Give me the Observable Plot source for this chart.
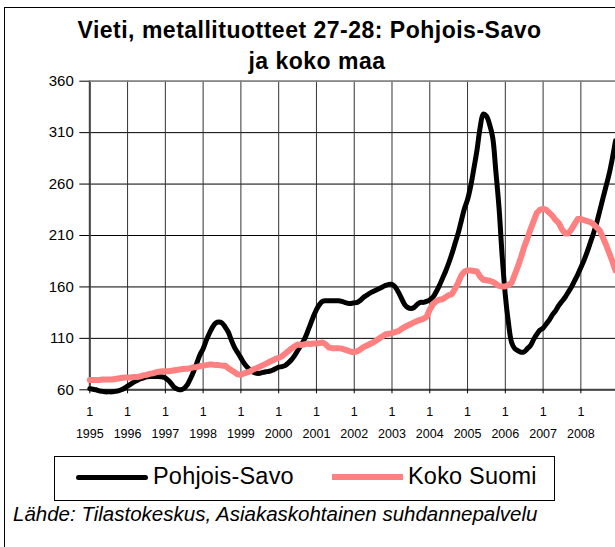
<!DOCTYPE html>
<html>
<head>
<meta charset="utf-8">
<script src="https://cdn.jsdelivr.net/npm/d3@7"></script>
<script src="https://cdn.jsdelivr.net/npm/@observablehq/plot@0.6"></script>
<style>
  html, body { margin: 0; padding: 0; background: #fff; }
  #wrap { position: relative; width: 615px; height: 547px; overflow: hidden; font-family: "Liberation Sans", Arial, sans-serif; color: #000; }
  #frame { position: absolute; left: 4px; top: 7px; width: 700px; height: 600px; border-left: 1px solid #000; border-top: 1px solid #000; }
  .title { position: absolute; font-weight: bold; font-size: 23px; line-height: 23px; letter-spacing: 0.5px; white-space: nowrap; transform: translateX(-50%); }
  #chart { position: absolute; left: 0; top: 70px; }
  #legend { position: absolute; left: 54px; top: 456px; width: 499px; height: 43px; border: 1px solid #000; }
  .sw { position: absolute; }
  .lt { position: absolute; font-size: 23.5px; line-height: 23.5px; letter-spacing: 0.2px; white-space: nowrap; }
  #caption { position: absolute; left: 13px; font-style: italic; font-size: 20.5px; line-height: 20.5px; white-space: nowrap; }
</style>
</head>
<body>
<div id="wrap">
  <div id="frame"></div>
  <div class="title" id="t1" style="left:309.5px; top:19px;">Vieti, metallituotteet 27-28: Pohjois-Savo</div>
  <div class="title" id="t2" style="left:317px; top:50px;">ja koko maa</div>
  <div id="chart"></div>
  <div id="legend">
    <div class="sw" style="left:21px; top:18px; width:72px; height:5px; background:#000; border-radius:3px;"></div>
    <div class="lt" style="left:98px; top:8px;">Pohjois-Savo</div>
    <div class="sw" style="left:277px; top:17px; width:71px; height:6px; background:#FF8080;"></div>
    <div class="lt" style="left:353px; top:8px;">Koko Suomi</div>
  </div>
  <div id="caption" style="top:504px;">Lähde: Tilastokeskus, Asiakaskohtainen suhdannepalvelu</div>
</div>
<script>
// Tick values
const years = [1995, 1996, 1997, 1998, 1999, 2000, 2001, 2002, 2003, 2004, 2005, 2006, 2007, 2008];
const yTicks = [60, 110, 160, 210, 260, 310, 360];
const seriesNames = ["Pohjois-Savo", "Koko Suomi"];

// Monthly index values, Jan 1995 .. Dec 2008
const pohjoisSavo = [
  61, 60.5, 60, 59, 58.5, 58, 58, 58, 58.5, 59, 60, 61.5,
  63.5, 65.5, 67.5, 69, 70.5, 71.5, 72.5, 73, 73, 73, 73, 72.5,
  71.5, 69, 65.5, 62, 60.5, 60, 61.5, 65, 71, 78, 86, 94,
  100, 108, 115, 121, 125, 126, 125, 121, 116, 108, 101, 96,
  91, 86, 82, 79, 77, 76, 76, 77, 77.5, 78, 79, 80.5,
  82, 82.5, 83.5, 86, 89, 93, 98, 103, 108, 115, 123, 131,
  138, 143, 146, 146.5, 146.5, 146.5, 146.5, 146.5, 146, 145, 144, 144,
  144.5, 145, 147, 150, 152, 154, 155.5, 157, 158.5, 160, 161.5, 162.5,
  162.5, 160, 155, 149, 143, 140, 139, 140, 143, 145, 145, 146,
  147.5, 150, 155, 161, 168, 175, 183, 192, 202, 212, 224, 236,
  245, 258, 275, 293, 315, 328, 326, 318, 305, 272, 237, 190,
  152, 125, 106, 100, 98, 96.5, 97, 100, 103, 109, 114, 118,
  120, 124, 128, 133, 137, 142, 146, 150, 155, 160, 166, 172,
  179, 186, 194, 203, 212, 222, 234, 246, 258, 270, 285, 302
];
const kokoSuomi = [
  69.5, 69.5, 69.5, 69.5, 70, 70, 70, 70, 70.5, 71, 71.5, 72,
  72, 72, 72.5, 72.5, 73, 74, 74.5, 75.5, 76, 77, 77.5, 78,
  78, 78, 78.5, 79, 79.5, 80, 80.5, 80.5, 81, 82, 82, 83,
  83.5, 84, 84.5, 84.5, 84, 84, 83.5, 83.5, 81, 79, 77, 75,
  74.5, 76, 77, 78, 80, 81, 82.5, 84, 85.5, 87, 88.5, 90,
  91, 92.5, 95, 97.5, 100, 102, 104, 103.5, 104, 105, 104.5, 105,
  105, 105.5, 106, 104, 101, 100.5, 100.5, 100.5, 100, 99, 98, 97,
  96.5, 97.5, 99.5, 101.5, 103, 104.5, 106, 108, 110, 112, 114, 114.5,
  115, 116, 117, 119, 121, 122.5, 124, 125.5, 127, 128, 129, 131,
  138, 143, 146, 147.5, 148, 150, 152, 153, 158, 164, 171, 175,
  176, 176, 175.5, 175, 170, 167, 166.5, 166, 165, 163, 161, 160.5,
  160.5, 162, 164, 172, 180, 189, 199, 207, 216, 224, 232, 235,
  236, 235, 232, 229, 225, 222, 216, 212, 212, 216, 221, 226,
  226, 225, 224, 223, 221, 218, 215, 208, 201, 193, 185, 176
];

const ps = pohjoisSavo.map((v, i) => ({t: 1995 + i / 12, v, s: seriesNames[0]}));
const ks = kokoSuomi.map((v, i) => ({t: 1995 + i / 12, v, s: seriesNames[1]}));

const chart = Plot.plot({
  width: 615,
  height: 380,
  marginLeft: 89.3,
  marginRight: 0,
  marginTop: 10.7,
  marginBottom: 60.7,
  x: {domain: [1995, 2008 + 11 / 12]},
  y: {domain: [60, 360]},
  style: {fontFamily: '"Liberation Sans", Arial, sans-serif', color: "#000", background: "transparent", overflow: "hidden"},
  marks: [
    Plot.gridY(yTicks, {stroke: "#000", strokeOpacity: 1, strokeWidth: 1}),
    Plot.gridX(years, {stroke: "#333", strokeOpacity: 1, strokeWidth: 1}),
    Plot.ruleX([1995], {stroke: "#444", strokeWidth: 2}),
    Plot.ruleY([60], {stroke: "#444", strokeWidth: 2}),
    Plot.ruleY([360], {stroke: "#888", strokeWidth: 1.5}),
    Plot.axisY(yTicks, {tickSize: 10, tickPadding: 6, fontSize: 15, tickFormat: d => String(d), label: null}),
    Plot.axisX(years, {tickSize: 4, tickPadding: 13.5, tickFormat: () => "1", fontSize: 12.5, label: null}),
    Plot.axisX(years, {tickSize: 0, tickPadding: 39, tickFormat: d => String(d), fontSize: 12.5, label: null}),
    Plot.line(ps, {x: "t", y: "v", stroke: "#000", strokeWidth: 5, curve: "catmull-rom"}),
    Plot.line(ks, {x: "t", y: "v", stroke: "#FF8080", strokeWidth: 6})
  ]
});
document.getElementById("chart").appendChild(chart);
</script>
</body>
</html>
